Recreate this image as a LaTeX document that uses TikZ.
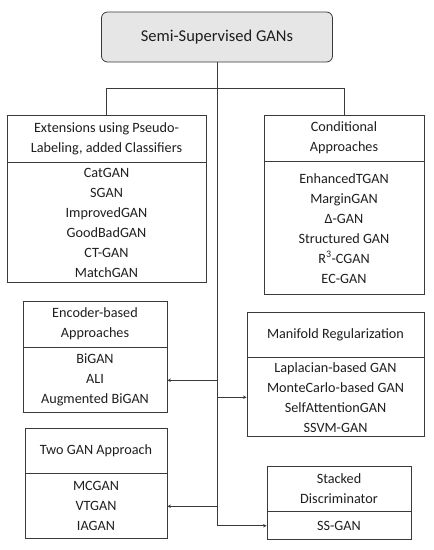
\documentclass[tikz,border=0pt]{standalone}
\usepackage{fontspec}
\setmainfont{Carlito}
\usepackage{tikz}
\usetikzlibrary{arrows.meta,positioning}
\definecolor{figline}{HTML}{3A3A3A}
\definecolor{figtext}{HTML}{1E1E1E}
\definecolor{figrootgray}{HTML}{E6E6E6}

\begin{document}
\begin{tikzpicture}[x=1pt,y=-1pt,
  every node/.style={font=\fontsize{14.2}{20}\selectfont,text=figtext,align=center,inner sep=0pt},
  hdr/.style={draw=figline,line width=0.8pt},
  lst/.style={draw=figline,line width=0.8pt},
  link/.style={figline,line width=0.8pt},
  arr/.style={link,-{Stealth[length=3.5pt,width=3.5pt]}}]
\useasboundingbox (0,0) rectangle (434,550);
\node[draw=figline,fill=figrootgray,rounded corners=6pt,line width=0.8pt,minimum width=231,minimum height=50,font=\fontsize{16.5}{20}\selectfont] (root) at (217,37) {Semi-Supervised GANs};
% left column
\node[hdr,minimum width=199,minimum height=47] (ext) at (106.5,138.5) {Extensions using Pseudo-\\Labeling, added Classifiers};
\node[lst,minimum width=199,minimum height=120,below=0pt of ext] (extl) {CatGAN\\SGAN\\ImprovedGAN\\GoodBadGAN\\CT-GAN\\MatchGAN};
\node[hdr,minimum width=144,minimum height=46] (enc) at (95,324) {Encoder-based\\Approaches};
\node[lst,minimum width=144,minimum height=65,below=0pt of enc] (encl) {BiGAN\\ALI\\Augmented BiGAN};
\node[hdr,minimum width=142,minimum height=45] (two) at (96,450.5) {Two GAN Approach};
\node[lst,minimum width=142,minimum height=65,below=0pt of two] (twol) {MCGAN\\VTGAN\\IAGAN};
% right column
\node[hdr,minimum width=160,minimum height=46] (cond) at (344,138) {Conditional\\Approaches};
\node[lst,minimum width=160,minimum height=133,below=0pt of cond] (condl) {EnhancedTGAN\\MarginGAN\\Δ-GAN\\Structured GAN\\R\textsuperscript{3}-CGAN\\EC-GAN};
\node[hdr,minimum width=177,minimum height=45] (man) at (335.5,334.5) {Manifold Regularization};
\node[lst,minimum width=177,minimum height=79,below=0pt of man] (manl) {Laplacian-based GAN\\MonteCarlo-based GAN\\SelfAttentionGAN\\SSVM-GAN};
\node[hdr,minimum width=144,minimum height=45] (stack) at (339,488.5) {Stacked\\Discriminator};
\node[lst,minimum width=144,minimum height=28,below=0pt of stack] (stackl) {SS-GAN};
% connectors
\draw[arr] (root.south) |- (stackl.west);
\draw[link] (ext.north) -- ++(0,-26) -| (cond.north);
\draw[arr] (root.south |- encl.east) -- (encl.east);
\draw[arr] (root.south |- manl.west) -- (manl.west);
\draw[arr] (root.south |- twol.east) -- (twol.east);
\end{tikzpicture}
\end{document}
